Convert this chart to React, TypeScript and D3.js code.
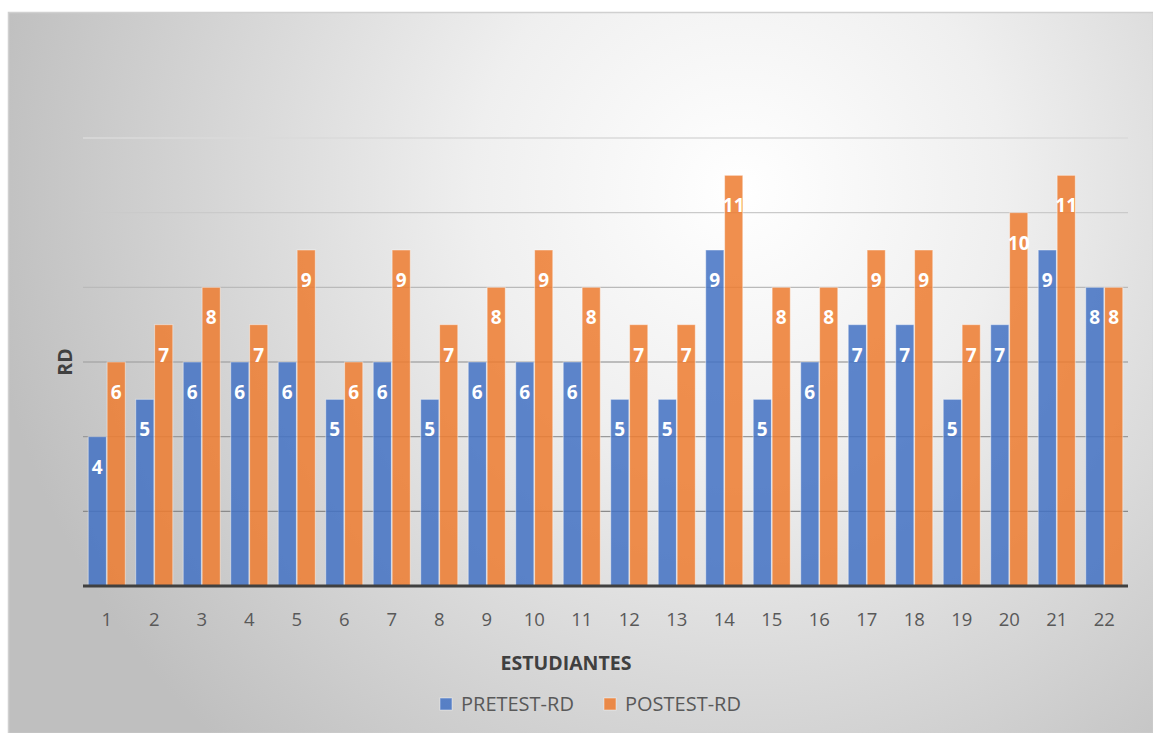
import React from "react";
import * as d3 from "d3";

const categories = ["1","2","3","4","5","6","7","8","9","10","11","12","13","14","15","16","17","18","19","20","21","22"];
const pretest = [4,5,6,6,6,5,6,5,6,6,6,5,5,9,5,6,7,7,5,7,9,8];
const postest = [6,7,8,7,9,6,9,7,8,9,8,7,7,11,8,8,9,9,7,10,11,8];
const seriesNames = ["PRETEST-RD", "POSTEST-RD"];
const gridTicks = [2, 4, 6, 8, 10, 12];

const W = 1153, H = 733;
const plot = { left: 83, right: 1128, top: 138, bottom: 586 };
const colors = ["#4472C4", "#ED7D31"];
const font = "'Open Sans', sans-serif";

export default function App() {
  const x = d3.scaleBand<string>().domain(categories).range([plot.left, plot.right]).paddingInner(0.22).paddingOuter(0.11);
  const xs = d3.scaleBand<number>().domain([0, 1]).range([0, x.bandwidth()]).paddingInner(0.04);
  const y = d3.scaleLinear().domain([0, 12]).range([plot.bottom, plot.top]);
  const gridColor = d3.scaleLinear<string>().domain([2, 12]).range(["#8a8a8a", "#dadada"]);
  const data = [pretest, postest];

  return (
    <svg width={W} height={H} style={{ position: "absolute", left: 0, top: 0 }}>
      <defs>
        <radialGradient id="bg" gradientUnits="userSpaceOnUse" cx={740} cy={190} r={760}>
          <stop offset="0" stopColor="#ffffff" />
          <stop offset="0.35" stopColor="#efefef" />
          <stop offset="1" stopColor="#bfbfbf" />
        </radialGradient>
      </defs>
      <rect x={8.5} y={12.5} width={W - 8} height={H - 12} fill="url(#bg)" stroke="#d0d0d0" strokeWidth={1.5} />
      {gridTicks.map((t) => (
        <line key={t} x1={plot.left} x2={plot.right} y1={y(t)} y2={y(t)} stroke={gridColor(t)} strokeWidth={1.3} />
      ))}
      {data.map((vals, si) =>
        vals.map((v, i) => {
          const bx = (x(categories[i]) as number) + (xs(si) as number);
          const bw = xs.bandwidth();
          return (
            <g key={`${si}-${i}`}>
              <rect x={bx} y={y(v)} width={bw} height={y(0) - y(v)} fill={colors[si]} fillOpacity={0.86}
                stroke="#ffffff" strokeOpacity={0.45} strokeWidth={1} />
              <text x={bx + bw / 2} y={y(v) + 37} textAnchor="middle" fill="#ffffff" fontFamily={font}
                fontWeight={700} fontSize={19}>{v}</text>
            </g>
          );
        })
      )}
      <line x1={plot.left} x2={plot.right} y1={plot.bottom} y2={plot.bottom} stroke="#404040" strokeWidth={3} />
      {categories.map((c) => (
        <text key={c} x={(x(c) as number) + x.bandwidth() / 2} y={626} textAnchor="middle" fill="#595959"
          fontFamily={font} fontSize={18.5}>{c}</text>
      ))}
      <text x={566} y={670} textAnchor="middle" fill="#404040" fontFamily={font} fontWeight={700} fontSize={19.5}>ESTUDIANTES</text>
      <text transform={`translate(72, ${362}) rotate(-90)`} textAnchor="middle" fill="#404040" fontFamily={font}
        fontWeight={700} fontSize={19.5}>RD</text>
      {seriesNames.map((n, i) => {
        const lx = i === 0 ? 440 : 604;
        return (
          <g key={n}>
            <rect x={lx} y={698} width={12} height={12} fill={colors[i]} fillOpacity={0.86} stroke="#ffffff" strokeOpacity={0.45} />
            <text x={lx + 21} y={711} fill="#595959" fontFamily={font} fontSize={20}>{n}</text>
          </g>
        );
      })}
    </svg>
  );
}
